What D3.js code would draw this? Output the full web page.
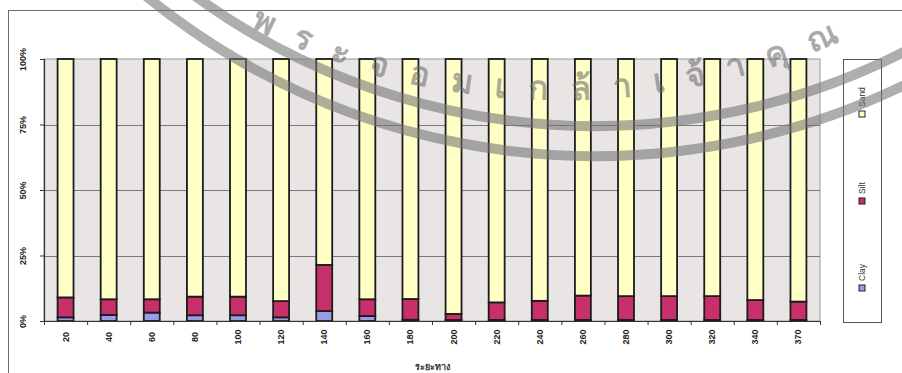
<!DOCTYPE html>
<html>
<head>
<meta charset="utf-8">
<script src="https://cdn.jsdelivr.net/npm/d3@7"></script>
<style>
  html, body { margin: 0; padding: 0; background: #ffffff; }
  svg { display: block; }
  text { font-family: "Liberation Sans", Arial, sans-serif; }
</style>
</head>
<body>
<svg id="chart" width="902" height="373"></svg>
<script>
// Sampling depths (category axis)
const categories = ["20","40","60","80","100","120","140","160","180","200","220","240","260","280","300","320","340","370"];

// Particle-size fractions, percent of sample
const clay = [1.4, 2.3, 3.2, 2.2, 2.2, 1.4, 3.8, 1.9, 0.5, 0.4, 0.4, 0.4, 0.4, 0.4, 0.4, 0.4, 0.4, 0.4];
const silt = [7.6, 6.0, 5.1, 7.1, 7.1, 6.2, 17.6, 6.4, 7.9, 2.3, 6.7, 7.3, 9.3, 9.1, 9.1, 9.1, 7.6, 7.0];
const sand = [91.0, 91.7, 91.7, 90.7, 90.7, 92.4, 78.6, 91.7, 91.6, 97.3, 92.9, 92.3, 90.3, 90.5, 90.5, 90.5, 92.0, 92.6];

const seriesNames = ["Clay", "Silt", "Sand"];
const seriesColors = ["#9c9be6", "#c8306a", "#ffffc6"];

const yTickValues = [0, 0.25, 0.5, 0.75, 1];
const yTickLabels = ["0%", "25%", "50%", "75%", "100%"];
const axisTitle = "ระยะทาง";
const sealText = "พระจอมเกล้าเจ้าคุณ";

const rows = categories.map((c, i) => ({ cat: c, Clay: clay[i], Silt: silt[i], Sand: sand[i] }));

const svg = d3.select("#chart");
const plot = { left: 44, right: 820, top: 59, bottom: 321 };

// Chart area frame (top and left edges)
svg.append("line").attr("x1", 8).attr("x2", 902).attr("y1", 10.5).attr("y2", 10.5)
  .attr("stroke", "#6a6a6a").attr("stroke-width", 1);
svg.append("line").attr("x1", 8.5).attr("x2", 8.5).attr("y1", 10).attr("y2", 373)
  .attr("stroke", "#6a6a6a").attr("stroke-width", 1);

const x = d3.scaleBand().domain(categories)
  .range([plot.left, plot.right]).paddingInner(0.63).paddingOuter(0.315);
const y = d3.scaleLinear().domain([0, 1]).range([plot.bottom, plot.top]);

// Plot area background
svg.append("rect")
  .attr("x", plot.left).attr("y", plot.top)
  .attr("width", plot.right - plot.left).attr("height", plot.bottom - plot.top)
  .attr("fill", "#e9e5e5").attr("stroke", "#9a9a9a").attr("stroke-width", 1);

// Horizontal gridlines
svg.append("g").selectAll("line")
  .data(yTickValues.filter(v => v > 0 && v < 1))
  .join("line")
  .attr("x1", plot.left).attr("x2", plot.right)
  .attr("y1", d => Math.round(y(d)) + 0.5).attr("y2", d => Math.round(y(d)) + 0.5)
  .attr("stroke", "#7a7a7a").attr("stroke-width", 1);

// Stacked 100% bars
const stacked = d3.stack().keys(seriesNames).offset(d3.stackOffsetExpand)(rows);
svg.append("g").selectAll("g")
  .data(stacked)
  .join("g")
  .attr("fill", (d, i) => seriesColors[i])
  .selectAll("rect")
  .data(d => d)
  .join("rect")
  .attr("x", d => x(d.data.cat))
  .attr("width", x.bandwidth())
  .attr("y", d => y(d[1]))
  .attr("height", d => y(d[0]) - y(d[1]))
  .attr("stroke", "#1c1c1c").attr("stroke-width", 1.8);

// Y axis
const yAxis = svg.append("g")
  .attr("transform", `translate(${plot.left},0)`)
  .call(d3.axisLeft(y).tickValues(yTickValues)
    .tickFormat((d, i) => yTickLabels[i]).tickSize(4).tickPadding(0));
yAxis.select(".domain").attr("stroke", "#333").attr("stroke-width", 1.2);
yAxis.selectAll(".tick line").attr("stroke", "#333");
yAxis.selectAll(".tick text")
  .attr("x", null).attr("dy", null)
  .attr("transform", "translate(-21,0) rotate(-90)")
  .attr("text-anchor", "middle")
  .attr("dominant-baseline", "central")
  .attr("fill", "#222")
  .style("font-size", "9px").style("font-weight", "bold");

// X axis: tick marks sit between categories
const xEdge = d3.scaleLinear().domain([0, categories.length]).range([plot.left, plot.right]);
const xAxis = svg.append("g")
  .attr("transform", `translate(0,${plot.bottom})`)
  .call(d3.axisBottom(xEdge).tickValues(d3.range(categories.length + 1))
    .tickFormat("").tickSizeInner(4).tickSizeOuter(0));
xAxis.select(".domain").attr("stroke", "#333").attr("stroke-width", 1.2);
xAxis.selectAll(".tick line").attr("stroke", "#333");

// Category labels, rotated
const xLabels = svg.append("g")
  .attr("transform", `translate(0,${plot.bottom})`)
  .call(d3.axisBottom(x).tickSize(0).tickPadding(0));
xLabels.select(".domain").remove();
xLabels.selectAll(".tick text")
  .attr("y", null).attr("dy", null)
  .attr("transform", "translate(0,16) rotate(-90)")
  .attr("text-anchor", "middle")
  .attr("dominant-baseline", "central")
  .attr("fill", "#222")
  .style("font-size", "9px").style("font-weight", "bold");

// Axis title
svg.append("text")
  .attr("x", (plot.left + plot.right) / 2).attr("y", 370)
  .attr("text-anchor", "middle")
  .attr("fill", "#333")
  .style("font-size", "9px").style("font-weight", "bold")
  .text(axisTitle);

// Legend
const legend = svg.append("g");
legend.append("rect")
  .attr("x", 843.5).attr("y", 59.5).attr("width", 38).attr("height", 263)
  .attr("fill", "#ffffff").attr("stroke", "#555").attr("stroke-width", 1);
const legendY = d3.scalePoint().domain(seriesNames).range([288, 114]);
const items = legend.selectAll("g.item").data(seriesNames).join("g")
  .attr("class", "item")
  .attr("transform", d => `translate(862,${legendY(d)})`);
items.append("rect")
  .attr("x", -3).attr("y", -3).attr("width", 6).attr("height", 6)
  .attr("fill", (d, i) => seriesColors[i]).attr("stroke", "#222").attr("stroke-width", 1);
items.append("text")
  .attr("transform", "translate(0,-7) rotate(-90)")
  .attr("text-anchor", "start")
  .attr("dominant-baseline", "central")
  .attr("fill", "#333")
  .style("font-size", "8.5px")
  .text(d => d);

// Institutional seal stamped over the page: two rings and lettering on an arc
const ring = { cx: 595, cy: -554 };
const lettering = { cx: 560, cy: -590, r: 690 };
const wm = svg.append("g").attr("opacity", 0.58).attr("pointer-events", "none");
const arcPath = (c, r, x0, x1) => {
  const a0 = Math.asin(Math.max(-1, Math.min(1, (x0 - c.cx) / r)));
  const a1 = Math.asin(Math.max(-1, Math.min(1, (x1 - c.cx) / r)));
  const p0 = [c.cx + r * Math.sin(a0), c.cy + r * Math.cos(a0)];
  const p1 = [c.cx + r * Math.sin(a1), c.cy + r * Math.cos(a1)];
  return `M${p0[0]},${p0[1]} A${r},${r} 0 0 0 ${p1[0]},${p1[1]}`;
};
[680, 710].forEach(r => {
  wm.append("path").attr("d", arcPath(ring, r, 0, 1000))
    .attr("fill", "none").attr("stroke", "#747474").attr("stroke-width", 10);
});
wm.append("path").attr("id", "sealArc")
  .attr("d", arcPath(lettering, lettering.r, 250, 872)).attr("fill", "none");
wm.append("text")
  .attr("fill", "#6e6e6e")
  .style("font-family", "'Noto Sans', 'DejaVu Sans', sans-serif")
  .style("font-size", "33px").style("font-weight", "bold")
  .append("textPath").attr("href", "#sealArc")
  .attr("textLength", 610).attr("lengthAdjust", "spacing")
  .text(sealText);
</script>
</body>
</html>
